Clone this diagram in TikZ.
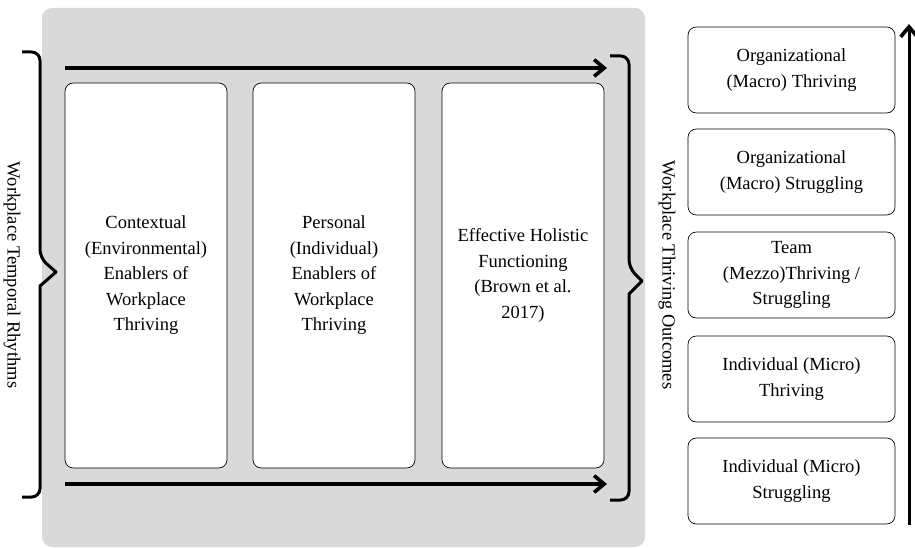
\documentclass[tikz,border=0pt]{standalone}
\usepackage{fontspec}
\setmainfont{Liberation Serif}
\usepackage{tikz}
\usetikzlibrary{positioning, arrows.meta}

\begin{document}
\begin{tikzpicture}[
    x=0.6pt, y=-0.6pt,
    font=\fontsize{11.1}{15.3}\selectfont,
    ebox/.style={draw=black, fill=white, rounded corners=5pt, minimum width=97.2pt,
                 minimum height=231pt, align=center, inner sep=2pt},
    obox/.style={draw=black, fill=white, rounded corners=5pt, minimum width=124.2pt,
                 minimum height=51.6pt, align=center, inner sep=2pt},
    flow/.style={line width=2.4pt, -{Straight Barb[length=6pt, width=10pt, line width=2.2pt]}},
    brc/.style={line width=1.8pt, rounded corners=5pt, line join=round},
]
  \useasboundingbox (0,0) rectangle (915,548);
  % Background panel
  \fill[gray!30, rounded corners=6pt] (42,8) rectangle (645,547);
  % Enablers
  \node[ebox] (ctx) at (146,275.5) {Contextual\\(Environmental)\\Enablers of\\Workplace\\Thriving};
  \node[ebox] (pers) at (334,275.5) {Personal\\(Individual)\\Enablers of\\Workplace\\Thriving};
  \node[ebox] (ehf) at (523,275.5) {Effective Holistic\\Functioning\\(Brown et al.\\2017)};
  % Temporal flow arrows
  \coordinate (t1) at (65,68);
  \coordinate (t2) at (607,68);
  \coordinate (b1) at (65,484);
  \coordinate (b2) at (607,484);
  \draw[flow] (t1) -- (t2);
  \draw[flow] (b1) -- (b2);
  % Braces
  \draw[brc] (22,52) -- (40,52) -- (40,258) [sharp corners] -- (56,272) -- (40,286) [rounded corners=5pt] -- (40,497) -- (22,497);
  \draw[brc] (610,56) -- (629,56) -- (629,268) [sharp corners] -- (642,281) -- (629,294) [rounded corners=5pt] -- (629,500) -- (610,500);
  \node[rotate=-90] (rhythm) at (12,275) {Workplace Temporal Rhythms};
  \node[rotate=-90] (outc) at (667,275) {Workplace Thriving Outcomes};
  % Outcomes
  \node[obox] (o1) at (791.5,70) {Organizational\\(Macro) Thriving};
  \node[obox] (o2) at (791.5,172) {Organizational\\(Macro) Struggling};
  \node[obox] (o3) at (791.5,275) {Team\\(Mezzo)Thriving /\\Struggling};
  \node[obox] (o4) at (791.5,379) {Individual (Micro)\\Thriving};
  \node[obox] (o5) at (791.5,481) {Individual (Micro)\\Struggling};
  % Outcome scale
  \coordinate (s1) at (909,525);
  \coordinate (s2) at (909,24);
  \draw[flow, line width=1.8pt] (s1) -- (s2);
\end{tikzpicture}
\end{document}
